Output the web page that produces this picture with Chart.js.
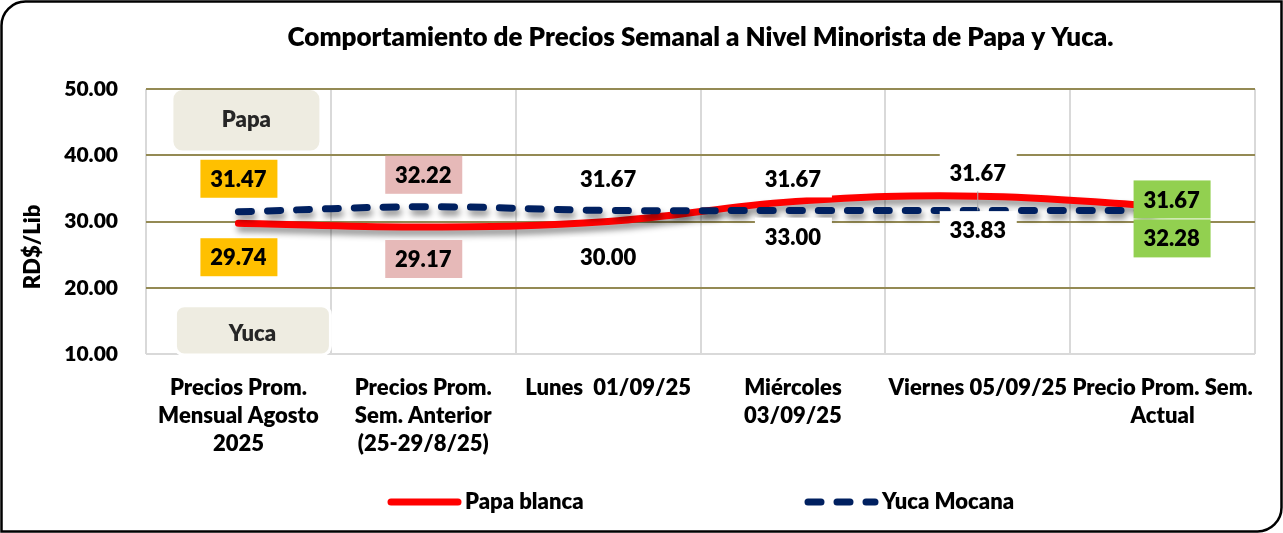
<!DOCTYPE html>
<html lang="es">

<head>
    <meta charset="UTF-8">
    <script src="https://cdn.jsdelivr.net/npm/chart.js"></script>
    <title>Precios Papa y Yuca</title>
    <style>
        body { margin: 0; background: #fff; }
    </style>
</head>

<body>
    <canvas id="chart" width="1283" height="533"></canvas>
    <script>
        const categories = [
            ['Precios Prom.', 'Mensual Agosto', '2025'],
            ['Precios Prom.', 'Sem. Anterior', '(25-29/8/25)'],
            'Lunes  01/09/25',
            ['Miércoles', '03/09/25'],
            'Viernes 05/09/25',
            ['Precio Prom. Sem.', 'Actual']
        ]
        const papaBlanca = [29.74, 29.17, 30.00, 33.00, 33.83, 32.28]
        const yucaMocana = [31.47, 32.22, 31.67, 31.67, 31.67, 31.67]
        const yMin = 10, yMax = 50, yStep = 10

        // label box look (not data)
        const labelFills = ['#FFC000', '#E6B9B8', '#FFFFFF', '#FFFFFF', '#FFFFFF', '#92D050']
        const yucaLabelDy = [-33, -32, -32, -32, -38, -11]
        const papaLabelDy = [34, 32, 35, 35, 34, 32]
        const labelDx = [0, 0, 0, 0, 0, 9]

        const FONT = 'Lato, "Open Sans", sans-serif'
        const W = '800'

        function roundBox(ctx, x, y, w, h, r, fill, stroke, lw) {
            ctx.beginPath()
            ctx.roundRect(x, y, w, h, r)
            ctx.fillStyle = fill
            ctx.fill()
            if (stroke) {
                ctx.lineWidth = lw
                ctx.strokeStyle = stroke
                ctx.stroke()
            }
        }

        const shadowPlugin = {
            id: 'line_shadow',
            beforeDatasetDraw: (chart) => {
                const ctx = chart.ctx
                ctx.save()
                ctx.shadowColor = 'rgba(0,0,0,0.45)'
                ctx.shadowBlur = 6
                ctx.shadowOffsetX = 2
                ctx.shadowOffsetY = 5
            },
            afterDatasetDraw: (chart) => {
                chart.ctx.restore()
            }
        }

        const labelPlugin = {
            id: 'value_labels',
            afterDatasetsDraw: (chart) => {
                const ctx = chart.ctx
                const yuca = chart.getDatasetMeta(1).data
                const papa = chart.getDatasetMeta(0).data
                ctx.save()
                // leader line on Viernes
                ctx.strokeStyle = '#a6a6a6'
                ctx.lineWidth = 1
                ctx.beginPath()
                ctx.moveTo(papa[4].x, yuca[4].y + yucaLabelDy[4] + 17)
                ctx.lineTo(papa[4].x, yuca[4].y)
                ctx.stroke()

                ctx.font = W + ' 22px ' + FONT
                ctx.textAlign = 'center'
                ctx.textBaseline = 'middle'
                const draw = (pt, val, dy, i) => {
                    const cx = pt.x + labelDx[i]
                    const cy = pt.y + dy
                    ctx.fillStyle = labelFills[i]
                    ctx.fillRect(cx - 38, cy - 19, 77, 38)
                    ctx.fillStyle = '#000'
                    ctx.fillText(val.toFixed(2), cx, cy + 1)
                }
                yucaMocana.forEach((v, i) => draw(yuca[i], v, yucaLabelDy[i], i))
                papaBlanca.forEach((v, i) => draw(papa[i], v, papaLabelDy[i], i))

                // "Papa" / "Yuca" tags
                const xs = chart.scales.x, ys = chart.scales.y
                const c0 = xs.getPixelForValue(0)
                roundBox(ctx, c0 - 65, ys.getPixelForValue(49.85), 146, ys.getPixelForValue(40.7) - ys.getPixelForValue(49.85), 9, '#EEECE1')
                const yt = ys.getPixelForValue(17.3)
                roundBox(ctx, c0 - 63, yt, 155, ys.getPixelForValue(9.85) - yt, 9, '#EEECE1', '#ffffff', 3)
                ctx.fillStyle = '#262626'
                ctx.font = W + ' 22px ' + FONT
                ctx.fillText('Papa', c0 + 8, ys.getPixelForValue(45.3))
                ctx.fillText('Yuca', c0 + 14, ys.getPixelForValue(13.1))
                ctx.restore()
            }
        }

        const framePlugin = {
            id: 'frame_and_legend',
            afterDraw: (chart) => {
                const ctx = chart.ctx
                ctx.save()
                // outer frame
                ctx.beginPath()
                ctx.roundRect(1.5, 1.5, 1280, 530, [24, 0, 24, 0])
                ctx.lineWidth = 2.5
                ctx.strokeStyle = '#000'
                ctx.stroke()

                // y axis title
                ctx.save()
                ctx.translate(33, 247)
                ctx.rotate(-Math.PI / 2)
                ctx.font = W + ' 22px ' + FONT
                ctx.fillStyle = '#000'
                ctx.textAlign = 'center'
                ctx.textBaseline = 'middle'
                ctx.fillText('RD$/Lib', 0, 0)
                ctx.restore()

                // legend
                const items = [
                    { x: 388, ds: chart.data.datasets[0] },
                    { x: 805, ds: chart.data.datasets[1] }
                ]
                const ly = 502
                ctx.font = W + ' 22px ' + FONT
                ctx.textAlign = 'left'
                ctx.textBaseline = 'middle'
                items.forEach(it => {
                    ctx.beginPath()
                    ctx.lineCap = 'round'
                    ctx.lineWidth = 7
                    ctx.strokeStyle = it.ds.borderColor
                    ctx.setLineDash(it.ds.borderDash || [])
                    ctx.moveTo(it.x + 3, ly)
                    ctx.lineTo(it.x + 70, ly)
                    ctx.stroke()
                    ctx.setLineDash([])
                    ctx.fillStyle = '#000'
                    ctx.fillText(it.ds.label, it.x + 77, ly)
                })
                ctx.restore()
            }
        }

        const config = {
            type: 'line',
            data: {
                labels: categories,
                datasets: [
                    {
                        label: 'Papa blanca',
                        data: papaBlanca,
                        borderColor: '#FF0000',
                        borderWidth: 7,
                        borderCapStyle: 'round',
                        tension: 0.4,
                        pointRadius: 0,
                        order: 2
                    },
                    {
                        label: 'Yuca Mocana',
                        data: yucaMocana,
                        borderColor: '#002060',
                        borderWidth: 7,
                        borderDash: [13, 16],
                        borderCapStyle: 'round',
                        tension: 0.4,
                        pointRadius: 0,
                        order: 1
                    }
                ]
            },
            options: {
                responsive: false,
                animation: false,
                layout: { padding: { left: 0, right: 28, top: 0, bottom: 0 } },
                plugins: {
                    legend: { display: false },
                    tooltip: { enabled: false },
                    title: {
                        display: true,
                        fullSize: false,
                        text: 'Comportamiento de Precios Semanal a Nivel Minorista de Papa y Yuca.',
                        color: '#000',
                        font: { family: FONT, size: 26, weight: W, lineHeight: 1.2 },
                        padding: { top: 22, bottom: 35.8 }
                    }
                },
                scales: {
                    x: {
                        offset: true,
                        grid: { offset: true, color: '#D9D9D9', lineWidth: 2, drawTicks: false },
                        border: { display: false },
                        ticks: {
                            autoSkip: false,
                            maxRotation: 0,
                            padding: 20,
                            color: '#000',
                            font: { family: FONT, size: 22, weight: W, lineHeight: 28 / 22 }
                        },
                        afterFit: (scale) => { scale.height = 179 }
                    },
                    y: {
                        min: yMin,
                        max: yMax,
                        grid: {
                            color: (c) => c.tick && c.tick.value === yMin ? '#D9D9D9' : '#948A54',
                            lineWidth: 2,
                            drawTicks: false
                        },
                        border: { display: false },
                        ticks: {
                            stepSize: yStep,
                            padding: 28,
                            color: '#000',
                            font: { family: FONT, size: 21, weight: W },
                            callback: (v) => Number(v).toFixed(2)
                        },
                        afterFit: (scale) => { scale.width = 146 }
                    }
                }
            },
            plugins: [shadowPlugin, labelPlugin, framePlugin]
        }

        new Chart(document.getElementById('chart'), config)
    </script>
</body>

</html>
